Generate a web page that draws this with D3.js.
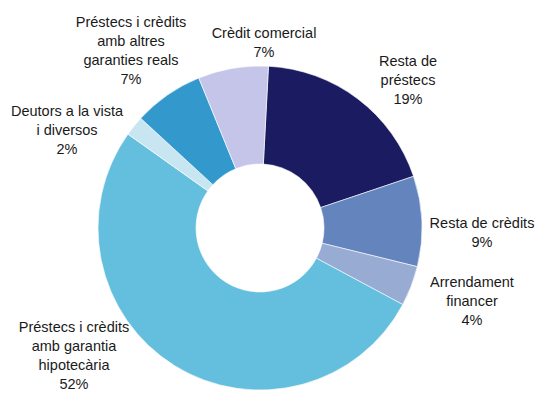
<!DOCTYPE html>
<html>
<head>
<meta charset="utf-8">
<script src="https://cdn.jsdelivr.net/npm/d3@7"></script>
<style>
  html, body { margin: 0; padding: 0; background: #fff; }
  svg { display: block; }
  text { font-family: "Liberation Sans", Arial, sans-serif; font-size: 14.5px; fill: #1a1a1a; }
</style>
</head>
<body>
<svg id="chart" width="539" height="393"></svg>
<script>
// Portfolio composition by loan type (share of total, %)
const categories = [
  "Resta de préstecs",
  "Resta de crèdits",
  "Arrendament financer",
  "Préstecs i crèdits amb garantia hipotecària",
  "Deutors a la vista i diversos",
  "Préstecs i crèdits amb altres garanties reals",
  "Crèdit comercial"
];
const values = [19, 9, 4, 52, 2, 7, 7];
const colors = ["#1b1b61", "#6484bd", "#97abd3", "#64bedd", "#c8e6f1", "#3398cb", "#c5c5e9"];

// Label text broken into lines, and where each label block is centred
const labelLines = [
  ["Resta de", "préstecs"],
  ["Resta de crèdits"],
  ["Arrendament", "financer"],
  ["Préstecs i crèdits", "amb garantia", "hipotecària"],
  ["Deutors a la vista", "i diversos"],
  ["Préstecs i crèdits", "amb altres", "garanties reals"],
  ["Crèdit comercial"]
];
const labelPos = [
  [408, 61], [482, 223], [472, 282], [74, 327], [67, 111], [131, 22], [264, 33]
];

const cx = 260, cy = 228, outerR = 162, innerR = 64;
const lineH = 19.1;

const svg = d3.select("#chart");
const g = svg.append("g").attr("transform", `translate(${cx},${cy})`);

const startOffset = 3 * Math.PI / 180;
const pie = d3.pie().sort(null).value(d => d)
  .startAngle(startOffset).endAngle(2 * Math.PI + startOffset);
const arc = d3.arc().innerRadius(innerR).outerRadius(outerR);

g.selectAll("path.slice")
  .data(pie(values))
  .join("path")
  .attr("class", "slice")
  .attr("d", arc)
  .attr("fill", (d, i) => colors[i])
  .attr("stroke", "#ffffff")
  .attr("stroke-width", 0.6);

const fmt = d3.format("d");
const labels = svg.selectAll("text.lbl")
  .data(categories)
  .join("text")
  .attr("class", "lbl")
  .attr("text-anchor", "middle")
  .attr("x", (d, i) => labelPos[i][0])
  .attr("y", (d, i) => labelPos[i][1]);

labels.each(function (d, i) {
  const t = d3.select(this);
  const lines = labelLines[i].concat([fmt(values[i]) + "%"]);
  lines.forEach((s, k) => {
    t.append("tspan")
      .attr("x", labelPos[i][0])
      .attr("y", labelPos[i][1] + k * lineH)
      .attr("dy", "0.35em")
      .text(s);
  });
});
</script>
</body>
</html>
